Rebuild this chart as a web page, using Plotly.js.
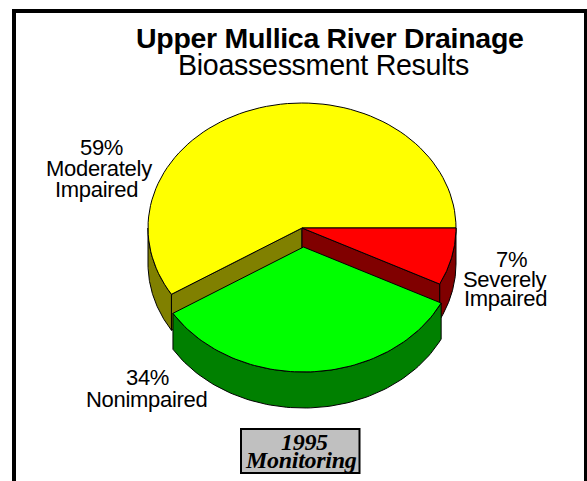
<!DOCTYPE html>
<html><head><meta charset="utf-8">
<script src="https://cdn.plot.ly/plotly-3.0.1.min.js"></script>
<style>html,body{margin:0;padding:0;background:#fff;overflow:hidden}
.annotation-text{letter-spacing:-0.3px}</style>
</head><body><div id="chart" style="width:587px;height:481px"></div>
<script>
var categories = ["Moderately Impaired", "Nonimpaired", "Severely Impaired"];
var shares = [58.9, 33.7, 7.4];
var topColors = ["#ffff00", "#00ff00", "#ff0000"];
var sideColors = ["#808000", "#008000", "#800000"];
var percentLabels = ["59%", "34%", "7%"];
var titleLine1 = "Upper Mullica River Drainage";
var titleLine2 = "Bioassessment Results";
var boxLines = ["1995", "Monitoring"];

var cx = 302, cy = 228, rx = 154, ry = 125, depth = 36;
var offsets = [[0,0],[1.5,19],[0,0]];
function pt(c, a){ return [c[0]+rx*Math.cos(a), c[1]-ry*Math.sin(a)]; }

var wedges = [], a0 = 0;
shares.forEach(function(s,i){
  var a1 = a0 + s/100*2*Math.PI;
  wedges.push({i:i, a0:a0, a1:a1, c:[cx+offsets[i][0], cy+offsets[i][1]]});
  a0 = a1;
});
function poly(xs, ys, color, name){
  return {type:"scatter", mode:"lines", x:xs, y:ys, fill:"toself", fillcolor:color,
    line:{color:"#000", width:1}, hoverinfo:"name", name:name, showlegend:false};
}
function face(w){
  var xs=[w.c[0]], ys=[w.c[1]];
  for (var k=0;k<=80;k++){ var p=pt(w.c, w.a0+(w.a1-w.a0)*k/80); xs.push(p[0]); ys.push(p[1]); }
  xs.push(w.c[0]); ys.push(w.c[1]);
  return poly(xs, ys, topColors[w.i], categories[w.i]);
}
function rim(w){
  var s=Math.max(w.a0, Math.PI), e=Math.min(w.a1, 2*Math.PI);
  var xs=[], ys=[], k, p;
  for (k=0;k<=80;k++){ p=pt(w.c, s+(e-s)*k/80); xs.push(p[0]); ys.push(p[1]); }
  for (k=80;k>=0;k--){ p=pt(w.c, s+(e-s)*k/80); xs.push(p[0]); ys.push(p[1]+depth); }
  xs.push(xs[0]); ys.push(ys[0]);
  return poly(xs, ys, sideColors[w.i], categories[w.i]);
}
function wall(w, a){
  var p=pt(w.c, a);
  return poly([w.c[0],p[0],p[0],w.c[0],w.c[0]],[w.c[1],p[1],p[1]+depth,w.c[1]+depth,w.c[1]], sideColors[w.i], categories[w.i]);
}
var Y=wedges[0], G=wedges[1], R=wedges[2];
var traces = [
  rim(Y), rim(R),
  wall(Y, Y.a1), wall(R, R.a0),
  face(Y), face(R),
  rim(G), face(G)
];

function note(text,x,y,size,opts){
  opts=opts||{};
  return {xref:"x",yref:"y",x:x,y:y,text:text,showarrow:false,xanchor:"center",yanchor:"middle",
    font:{family:opts.family||"Liberation Sans, Arial, sans-serif",size:size,color:"#000"}};
}
var serif="Liberation Serif, Times New Roman, serif";
var annotations=[
  note("<b>"+titleLine1+"</b>",330,38,28.5),
  note(titleLine2,323.5,65,28.6),
  note(percentLabels[0],101,147,22), note("Moderately",99,168,22), note("Impaired",96.5,189,22),
  note(percentLabels[2],511,259,22), note("Severely",504,279,22), note("Impaired",505,298,22),
  note(percentLabels[1],147,377,22), note("Nonimpaired",146.5,399,22),
  note("<b><i>"+boxLines[0]+"</i></b>",304,442,24,{family:serif}),
  note("<b><i>"+boxLines[1]+"</i></b>",300.5,460,24,{family:serif})
];
var shapes=[
  {type:"rect",xref:"x",yref:"y",x0:14,x1:586,y0:11,y1:495,line:{color:"#000",width:4},fillcolor:"rgba(0,0,0,0)",layer:"below"},
  {type:"rect",xref:"x",yref:"y",x0:241,x1:359.5,y0:429,y1:473,line:{color:"#000",width:2},fillcolor:"#c0c0c0",layer:"below"}
];
Plotly.newPlot("chart",traces,{
  width:587,height:481,margin:{l:0,r:0,t:0,b:0},
  paper_bgcolor:"#fff",plot_bgcolor:"#fff",showlegend:false,
  xaxis:{range:[0,587],visible:false,fixedrange:true},
  yaxis:{range:[481,0],visible:false,fixedrange:true},
  annotations:annotations,shapes:shapes
},{displayModeBar:false,staticPlot:true});
</script></body></html>
